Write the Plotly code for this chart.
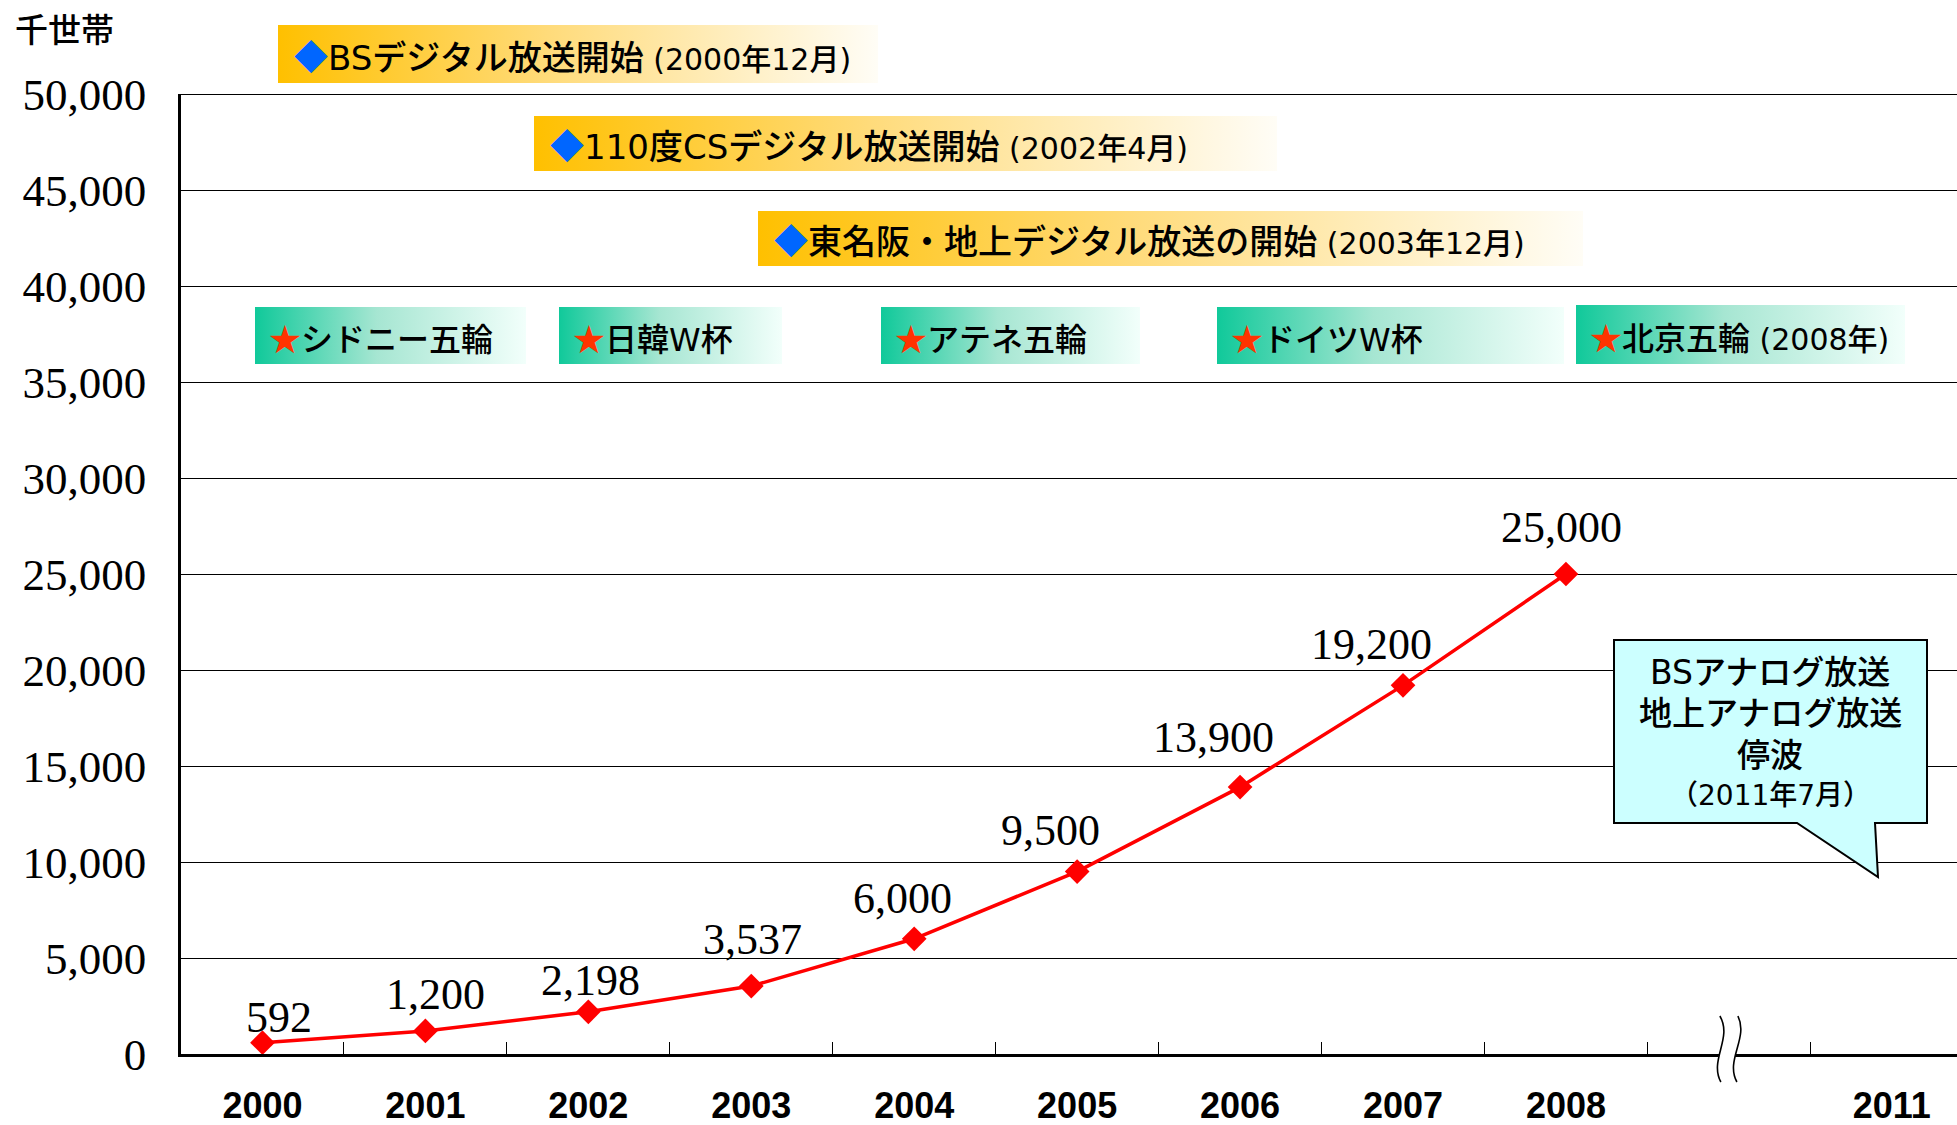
import plotly.graph_objects as go

# --- data ---------------------------------------------------------------
years = ["2000", "2001", "2002", "2003", "2004", "2005", "2006", "2007", "2008"]
households = [592, 1200, 2198, 3537, 6000, 9500, 13900, 19200, 25000]  # 千世帯
value_labels = ["592", "1,200", "2,198", "3,537", "6,000", "9,500", "13,900", "19,200", "25,000"]
gap_category = "~"
axis_categories = years + [gap_category, "2011"]
axis_labels = years + ["", "2011"]
y_ticks = list(range(0, 50001, 5000))

digital_events = ["BSデジタル放送開始", "110度CSデジタル放送開始", "東名阪・地上デジタル放送の開始"]
digital_dates = ["(2000年12月)", "(2002年4月)", "(2003年12月)"]
sports_events = ["シドニー五輪", "日韓W杯", "アテネ五輪", "ドイツW杯", "北京五輪"]
sports_dates = ["", "", "", "", "(2008年)"]
callout_lines = ["BSアナログ放送", "地上アナログ放送", "停波", "（2011年7月）"]

# --- layout helpers (pixels) -------------------------------------------
W, H = 1957, 1125
PLOT_L, PLOT_T, PLOT_B = 181, 94, 1054
orange_boxes = [(278, 25, 878, 83), (534, 116, 1277, 171), (758, 211, 1583, 266)]
teal_boxes = [(255, 307, 526, 364), (559, 307, 782, 364), (881, 307, 1140, 364),
              (1217, 307, 1564, 364), (1576, 305, 1905, 364)]
label_offsets = [(17, 25), (10, 36), (2, 31), (1, 47), (-12, 40), (-27, 41), (-27, 50), (-32, 41), (-4, 47)]
orange_scale = [[0, "#FFC000"], [0.45, "#FFDB7A"], [1, "#FFFDF6"]]
teal_scale = [[0, "#10C99A"], [0.45, "#A6E6D2"], [1, "#F2FFFB"]]
JP = "Noto Sans CJK JP"
MIX = "DejaVu Sans, Noto Sans CJK JP"

fig = go.Figure()

fig.add_trace(go.Scatter(x=years, y=households, mode="lines+markers",
                         line=dict(color="#FF0000", width=3.5),
                         marker=dict(symbol="diamond", size=19, color="#FF0000"),
                         hoverinfo="skip", cliponaxis=False))


def banner(box, scale):
    x0, y0, x1, y1 = box
    fig.add_trace(go.Scatter(x=[x0, x1, x1, x0, x0], y=[y0, y0, y1, y1, y0],
                             xaxis="x2", yaxis="y2", mode="lines", fill="toself",
                             line=dict(width=0), fillgradient=dict(type="horizontal", colorscale=scale),
                             hoverinfo="skip"))


def mark(sym, color):
    return f"<span style='font-family:Noto Sans CJK JP;color:{color}'>{sym}</span>"


annotations = []
for box, ev, dt in zip(orange_boxes, digital_events, digital_dates):
    banner(box, orange_scale)
    annotations.append(dict(
        x=box[0] + 14, y=(box[1] + box[3]) / 2 + 1, xref="x2", yref="y2", xanchor="left", yanchor="middle",
        showarrow=False, font=dict(family=MIX, size=34, color="black", weight=500),
        text=f"{mark('◆', '#0066FF')}{ev}<span style='font-size:30px'> {dt}</span>"))

for box, ev, dt in zip(teal_boxes, sports_events, sports_dates):
    banner(box, teal_scale)
    annotations.append(dict(
        x=box[0] + 12, y=(box[1] + box[3]) / 2 + 1, xref="x2", yref="y2", xanchor="left", yanchor="middle",
        showarrow=False, font=dict(family=MIX, size=32, color="black", weight=500),
        text=f"{mark('★', '#FF3300')}{ev}<span style='font-size:30px'> {dt}</span>"))

# value labels
for i, (v, lab, (dx, dy)) in enumerate(zip(households, value_labels, label_offsets)):
    annotations.append(dict(x=i, y=v, xref="x", yref="y", text=lab, showarrow=False,
                            xshift=dx, yshift=dy, xanchor="center", yanchor="middle",
                            font=dict(family="Liberation Serif", size=44, color="black")))

# unit
annotations.append(dict(x=13, y=28, xref="x2", yref="y2", text="千世帯", showarrow=False,
                        xanchor="left", yanchor="middle",
                        font=dict(family=JP, size=33, color="black", weight=500)))

# callout text
for txt, cy, sz in zip(callout_lines, [672, 713, 755, 795], [33, 33, 33, 28]):
    annotations.append(dict(x=1770, y=cy, xref="x2", yref="y2", text=txt, showarrow=False,
                            xanchor="center", yanchor="middle",
                            font=dict(family=MIX, size=sz, color="black", weight=500)))

shapes = [
    # top frame line
    dict(type="line", xref="paper", yref="y", x0=PLOT_L / W, x1=1, y0=50000, y1=50000,
         line=dict(color="black", width=2.2), layer="above"),
    # callout bubble
    dict(type="path", xref="x2", yref="y2", layer="above",
         path="M1614,640 L1927,640 L1927,823 L1875,823 L1878,877 L1797,823 L1614,823 Z",
         fillcolor="#CCFFFF", line=dict(color="black", width=2)),
]
# axis break between 2008 and 2011
gap_idx = axis_categories.index(gap_category)
brk = dict(xref="x", yref="paper", xsizemode="pixel", ysizemode="pixel", xanchor=gap_idx,
           yanchor=1 - PLOT_B / H, type="path", layer="above")
shapes.append(dict(brk, path="M-9,38 C4,16 -20,-6 -8,-28 L8,-28 C-4,-6 20,16 9,38 Z",
                   fillcolor="white", line=dict(width=0)))
shapes.append(dict(brk, path="M-9,38 C4,16 -20,-6 -8,-28", line=dict(color="black", width=1.6)))
shapes.append(dict(brk, path="M9,38 C20,16 -4,-6 8,-28", line=dict(color="black", width=1.6)))

fig.update_layout(
    width=W, height=H, margin=dict(l=0, r=0, t=0, b=0, autoexpand=False),
    paper_bgcolor="white", plot_bgcolor="rgba(0,0,0,0)", showlegend=False,
    xaxis=dict(domain=[PLOT_L / W, 1], type="category", categoryorder="array",
               categoryarray=axis_categories, tickmode="array", tickvals=axis_categories,
               ticktext=axis_labels, tickson="boundaries", ticks="inside", ticklen=12,
               tickwidth=1.2, tickcolor="black", showline=True, linecolor="black", linewidth=3,
               showgrid=False, range=[-0.5, 10.4], ticklabelstandoff=18, anchor="y", automargin=False,
               tickfont=dict(family="Liberation Sans", size=36, color="black", weight="bold")),
    yaxis=dict(domain=[1 - PLOT_B / H, 1 - PLOT_T / H], range=[0, 50000], tickmode="array",
               tickvals=y_ticks, tickformat=",", showgrid=True, gridcolor="black", gridwidth=1.3,
               showline=True, linecolor="black", linewidth=2.5, zeroline=False, ticks="",
               ticklabelstandoff=23, anchor="x", automargin=False,
               tickfont=dict(family="Liberation Serif", size=45, color="black")),
    xaxis2=dict(domain=[0, 1], range=[0, W], visible=False, anchor="y2", fixedrange=True, automargin=False),
    yaxis2=dict(domain=[0, 1], range=[H, 0], visible=False, anchor="x2", fixedrange=True, automargin=False),
    annotations=annotations, shapes=shapes,
)

fig.write_html("out.html", config={"displayModeBar": False},
               post_script="document.body.style.margin='0';")
